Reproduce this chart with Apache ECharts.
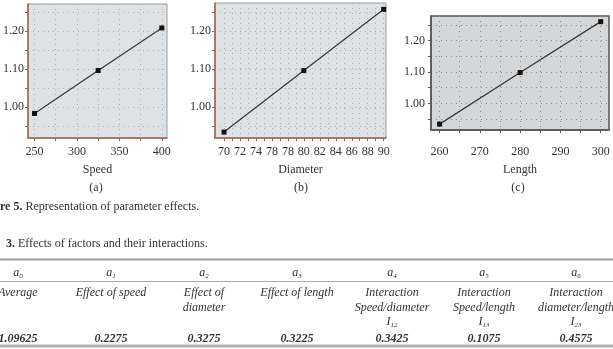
<!DOCTYPE html>
<html><head><meta charset="utf-8">
<script src="https://cdn.jsdelivr.net/npm/echarts@6/dist/echarts.min.js"></script>
<style>html,body{margin:0;padding:0;background:#fff}#c{width:613px;height:349px}</style>
</head><body><div id="c"></div>
<script>
// ---- data ----
const speedValues = [250, 325, 400];
const speedEffect = [0.983, 1.096, 1.208];
const speedTicks = [250, 275, 300, 325, 350, 375, 400];
const speedLabels = [250, 300, 350, 400];

const diameterValues = [70, 80, 90];
const diameterEffect = [0.934, 1.096, 1.257];
const diameterTicks = [70, 71, 72, 73, 74, 75, 76, 77, 78, 79, 80, 81, 82, 83, 84, 85, 86, 87, 88, 89, 90];
const diameterLabelValues = [70, 72, 74, 76, 78, 80, 82, 84, 86, 88, 90];
const diameterLabels = ['70', '72', '74', '78', '78', '80', '82', '84', '86', '88', '90'];

const lengthValues = [260, 280, 300];
const lengthEffect = [0.934, 1.098, 1.260];
const lengthTicks = [260, 265, 270, 275, 280, 285, 290, 295, 300];
const lengthLabels = [260, 270, 280, 290, 300];

const yTicks = [0.95, 1.00, 1.05, 1.10, 1.15, 1.20, 1.25];
const yLabels = [1.00, 1.10, 1.20];

const coefIndex = ['0', '1', '2', '3', '4', '5', '6'];
const coefDescriptions = [['Average'], ['Effect of speed'], ['Effect of', 'diameter'], ['Effect of length'],
  ['Interaction', 'Speed/diameter'], ['Interaction', 'Speed/length'], ['Interaction', 'diameter/length']];
const coefInteraction = ['', '', '', '', '12', '13', '23'];
const coefValues = ['1.09625', '0.2275', '0.3275', '0.3225', '0.3425', '0.1075', '0.4575'];

// ---- layout / style ----
const SERIF = '"Liberation Serif", "DejaVu Serif", serif';
const colX = [18, 111, 204, 297, 392, 484, 576];

function pairs(xs, ys) { return xs.map((x, i) => [x, ys[i]]); }

function makeX(idx, min, max, ticks, labels, fmt, axisColor, name, nameGap, margin) {
  return {
    type: 'value', gridIndex: idx, min: min, max: max,
    name: name, nameLocation: 'middle', nameGap: nameGap,
    nameTextStyle: { fontFamily: SERIF, fontSize: 12, color: '#333' },
    axisLine: { show: true, onZero: false, lineStyle: { color: axisColor, width: 1.5 } },
    axisTick: { show: true, inside: false, length: 3, customValues: ticks, lineStyle: { color: axisColor, width: 1 } },
    axisLabel: { customValues: labels, formatter: fmt, margin: margin, fontFamily: SERIF, fontSize: 12, color: '#333' },
    splitLine: { show: true, lineStyle: { type: [1, 4], color: idx === 2 ? '#8e8e8e' : '#aab0b5', width: 1 } }
  };
}
function makeY(idx, min, max, axisColor, margin) {
  return {
    type: 'value', gridIndex: idx, min: min, max: max,
    axisLine: { show: true, onZero: false, lineStyle: { color: axisColor, width: 1.5 } },
    axisTick: { show: true, inside: false, length: 3, customValues: yTicks, lineStyle: { color: axisColor, width: 1 } },
    axisLabel: { customValues: yLabels, formatter: v => v.toFixed(2), margin: margin, fontFamily: SERIF, fontSize: 12, color: '#333' },
    splitLine: { show: true, lineStyle: { type: [1, 4], color: idx === 2 ? '#8e8e8e' : '#aab0b5', width: 1 } }
  };
}
function makeSeries(idx, data) {
  return {
    type: 'line', xAxisIndex: idx, yAxisIndex: idx, data: data,
    symbol: 'rect', symbolSize: 5, itemStyle: { color: '#111' },
    lineStyle: { color: '#3a3a3a', width: 1.3 }, silent: true
  };
}

const brown = '#a06050';
const graphics = [];
function text(x, y, str, rich, align) {
  graphics.push({ type: 'text', x: x, y: y, silent: true,
    style: { text: str, rich: rich, align: align || 'center', verticalAlign: 'middle',
      fontFamily: SERIF, fontSize: 12, fill: '#333' } });
}
function rule(y, w, color) {
  graphics.push({ type: 'line', silent: true, shape: { x1: 0, y1: y, x2: 613, y2: y }, style: { stroke: color, lineWidth: w } });
}
const richBase = {
  r: { fontFamily: SERIF, fontSize: 12, color: '#333' },
  b: { fontFamily: SERIF, fontSize: 12, fontWeight: 'bold', color: '#333' },
  i: { fontFamily: SERIF, fontSize: 12, fontStyle: 'italic', color: '#333', lineHeight: 14 },
  s: { fontFamily: SERIF, fontSize: 7, fontStyle: 'italic', color: '#333', lineHeight: 9, verticalAlign: 'bottom' },
  v: { fontFamily: SERIF, fontSize: 12, fontStyle: 'italic', fontWeight: 'bold', color: '#333' }
};

text(96, 188, '(a)', richBase);
text(301, 188, '(b)', richBase);
text(518, 188, '(c)', richBase);
text(0, 207, '{b|re 5.}{r| Representation of parameter effects.}', richBase, 'left');
text(6, 244, '{b|3.}{r| Effects of factors and their interactions.}', richBase, 'left');
rule(259.5, 2, '#9a9a9a');
rule(281.5, 1, '#aaaaaa');
rule(346, 3, '#b0b0b0');
coefIndex.forEach((k, i) => {
  text(colX[i], 273, '{i|a}{s|' + k + '}', richBase);
  coefDescriptions[i].forEach((line, j) => text(colX[i], 293 + j * 15, '{i|' + line + '}', richBase));
  if (coefInteraction[i]) text(colX[i], 322, '{i|I}{s|' + coefInteraction[i] + '}', richBase);
  text(colX[i], 339, '{v|' + coefValues[i] + '}', richBase);
});

const option = {
  animation: false,
  grid: [
    { left: 24, top: 4, width: 143, height: 134, show: true, backgroundColor: '#dfe2e5', borderColor: '#9c9c9c', borderWidth: 1 },
    { left: 215, top: 3, width: 171, height: 135, show: true, backgroundColor: '#dfe2e5', borderColor: '#9c9c9c', borderWidth: 1 },
    { left: 431, top: 16, width: 178, height: 114, show: true, backgroundColor: '#d5d6d8', borderColor: '#555', borderWidth: 1.5 }
  ],
  xAxis: [
    makeX(0, 242.3, 406.1, speedTicks, speedLabels, v => String(v), brown, 'Speed', 26, 8),
    makeX(1, 68.87, 90.29, diameterTicks, diameterLabelValues,
      v => diameterLabels[diameterLabelValues.indexOf(Math.round(v))], brown, 'Diameter', 26, 8),
    makeX(2, 257.87, 302.06, lengthTicks, lengthLabels, v => String(v), '#555', 'Length', 34, 16)
  ],
  yAxis: [
    makeY(0, 0.9184, 1.271, brown, 4),
    makeY(1, 0.9184, 1.2737, brown, 4),
    makeY(2, 0.9152, 1.278, '#555', 6)
  ],
  series: [
    makeSeries(0, pairs(speedValues, speedEffect)),
    makeSeries(1, pairs(diameterValues, diameterEffect)),
    makeSeries(2, pairs(lengthValues, lengthEffect))
  ],
  graphic: graphics
};
const chart = echarts.init(document.getElementById('c'), null, { renderer: 'canvas' });
chart.setOption(option);
</script>
</body></html>
